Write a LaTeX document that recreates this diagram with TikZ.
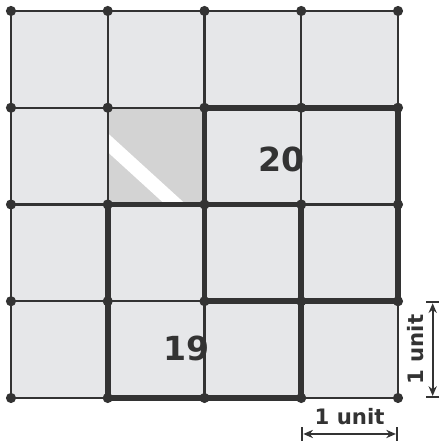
\documentclass[tikz,border=0pt]{standalone}
\usepackage{fontspec}
\setmainfont{DejaVu Sans}
\usetikzlibrary{arrows.meta}
\definecolor{xgrey}{RGB}{230,231,233}
\definecolor{xshade}{RGB}{211,211,211}
\definecolor{xink}{RGB}{51,51,51}

\begin{document}
\begin{tikzpicture}[>={Stealth[length=0.2cm,width=0.17cm]}]
\tikzset{gridline/.style={draw=xink,line width=1.3pt}}
\tikzset{edge/.style={draw=xink,line width=3.3pt,line join=round}}
\tikzset{dot/.style={circle,fill=xink,draw=none,inner sep=0pt,minimum size=0.21cm}}
\tikzset{num/.style={text=xink,font=\bfseries\fontsize{19.5}{19.5}\selectfont}}
\tikzset{dim/.style={text=xink,font=\bfseries\fontsize{12.5}{12.5}\selectfont}}
\tikzset{dimline/.style={draw=xink,line width=1.2pt,|<->|}}
\def \w {2}
\useasboundingbox (-0.227,-0.889) rectangle (8.848,8.227);
\foreach \i in {0,...,4}
  \foreach \j in {0,...,4}
    \coordinate (p\i\j) at (\i*\w,\j*\w);
% squares
\fill[xgrey] (p00) rectangle (p44);
\fill[xshade] (p12) rectangle (p23);
\begin{scope}
\clip (p12) rectangle (p23);
\draw[white,line width=0.29cm] (1.9,5.37) -- (3.6,3.82);
\end{scope}
% grid
\foreach \i in {0,...,4} {
  \draw[gridline] (p\i0) -- (p\i4);
  \draw[gridline] (p0\i) -- (p4\i);
}
\draw[edge] (p23) -- (p43) -- (p41) -- (p21) -- cycle;
\draw[edge] (p12) -- (p32) -- (p30) -- (p10) -- cycle;
\foreach \i in {0,...,4}
  \foreach \j in {0,...,4}
    \node[dot] (d\i\j) at (p\i\j) {};
\node[num] (n20) at (5.60,4.94) {20};
\node[num] (n19) at (3.62,1.02) {19};
% unit marks
\coordinate (h1) at (6,-0.744);
\coordinate (h2) at (8,-0.744);
\coordinate (v1) at (8.717,0);
\coordinate (v2) at (8.717,2);
\draw[dimline] (h1) -- (h2);
\draw[dimline] (v1) -- (v2);
\node[dim] (uh) at (7,-0.39) {1 unit};
\node[dim,rotate=90] (uv) at (8.37,1) {1 unit};
\end{tikzpicture}
\end{document}
